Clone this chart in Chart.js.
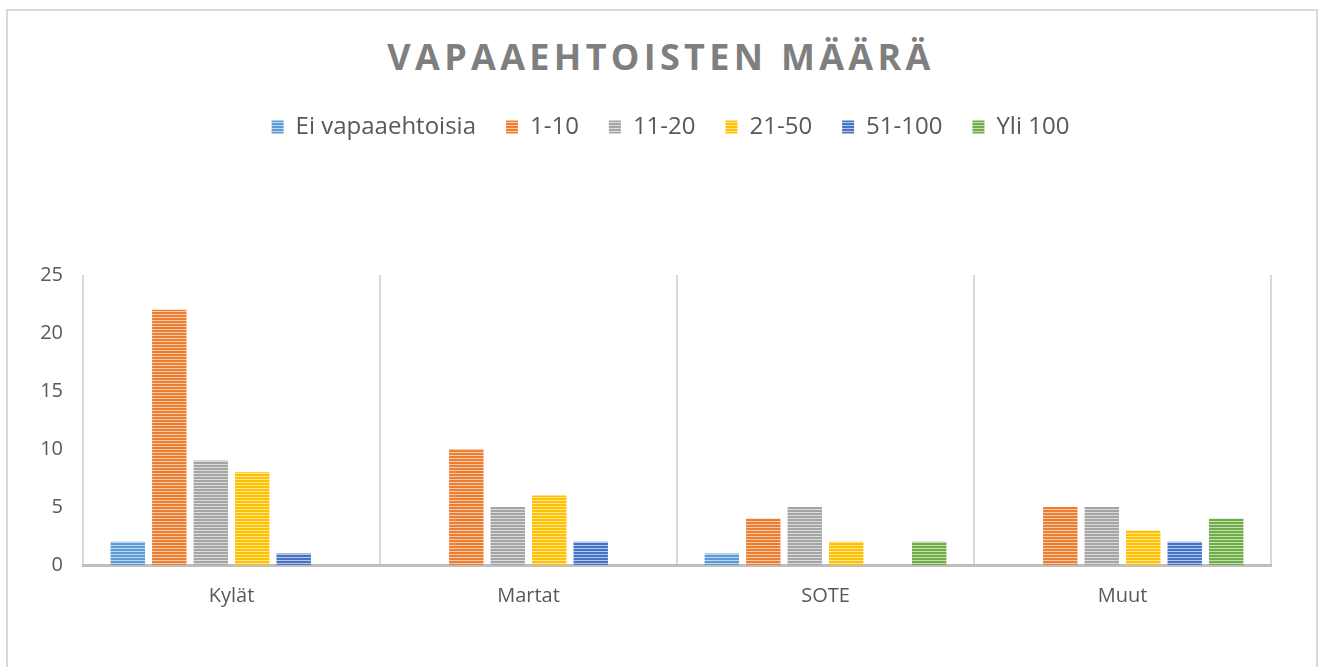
<!DOCTYPE html>
<html>
<head>
<meta charset="utf-8">
<script src="https://cdn.jsdelivr.net/npm/chart.js@4"></script>
<style>
  html, body { margin: 0; padding: 0; background: #fff; }
  #wrap { position: relative; width: 1322px; height: 667px; overflow: hidden; }
  #frame { position: absolute; left: 6px; top: 9px; width: 1312px; height: 680px; border: 2px solid #d9d9d9; box-sizing: border-box; }
  #title { position: absolute; left: 0; top: 32px; width: 1322px; text-align: center;
    font-family: 'Open Sans', sans-serif; font-weight: bold; font-size: 36px; letter-spacing: 4.3px; color: #7f7f7f; }
  canvas { position: absolute; left: 0; top: 0; }
</style>
</head>
<body>
<div id="wrap">
  <div id="frame"></div>
  <div id="title">VAPAAEHTOISTEN MÄÄRÄ</div>
  <canvas id="chart" width="1322" height="667"></canvas>
</div>
<script>
// data
const categories = ['Kylät', 'Martat', 'SOTE', 'Muut'];
const seriesNames = ['Ei vapaaehtoisia', '1-10', '11-20', '21-50', '51-100', 'Yli 100'];
const eiVapaaehtoisia = [2, 0, 1, 0];
const v1_10 = [22, 10, 4, 5];
const v11_20 = [9, 5, 5, 5];
const v21_50 = [8, 6, 2, 3];
const v51_100 = [1, 2, 0, 2];
const yli100 = [0, 0, 2, 4];
const yTicks = [0, 5, 10, 15, 20, 25];

const seriesValues = [eiVapaaehtoisia, v1_10, v11_20, v21_50, v51_100, yli100];
const colors = ['#5b9bd5', '#ed7d31', '#a5a5a5', '#ffc000', '#4472c4', '#70ad47'];

// horizontal stripe fill
function stripes(color) {
    var c = document.createElement('canvas');
    c.width = 4; c.height = 3;
    var g = c.getContext('2d');
    g.fillStyle = '#fff';
    g.fillRect(0, 0, 4, 3);
    g.fillStyle = color;
    g.fillRect(0, 0, 4, 2);
    g.globalAlpha = 0.4;
    g.fillRect(0, 2, 4, 1);
    return g.createPattern(c, 'repeat');
}

Chart.defaults.font.family = "'Open Sans', sans-serif";
Chart.defaults.color = '#595959';

// legend: fixed height, centred on the whole canvas instead of the left part
const legendFix = {
    id: 'legendFix',
    beforeInit(chart) {
        const fit = chart.legend.fit;
        chart.legend.fit = function () {
            fit.bind(chart.legend)();
            this.height = 190;
        };
    },
    afterLayout(chart) {
        chart.legend.left += 35;
        chart.legend.right += 35;
    }
};

var ctx = document.getElementById('chart').getContext('2d');
var myChart = new Chart(ctx, {
    type: 'bar',
    data: {
        labels: categories,
        datasets: seriesNames.map((name, i) => ({
            label: name,
            data: seriesValues[i],
            backgroundColor: stripes(colors[i]),
            borderWidth: 0,
            categoryPercentage: 0.838,
            barPercentage: 0.83
        }))
    },
    options: {
        responsive: false,
        animation: false,
        layout: { padding: { top: 85, right: 51, left: 0, bottom: 0 } },
        plugins: {
            legend: {
                position: 'top',
                labels: {
                    font: { size: 24 },
                    boxWidth: 12,
                    boxHeight: 13,
                    padding: 30
                }
            },
            tooltip: { enabled: false }
        },
        scales: {
            x: {
                grid: { display: true, offset: true, color: '#d9d9d9', lineWidth: 2, drawTicks: false },
                border: { display: true, color: '#bfbfbf', width: 3 },
                ticks: { font: { size: 20 }, padding: 19, color: '#595959' },
                afterFit(scale) { scale.height = 102; }
            },
            y: {
                min: 0,
                max: 25,
                afterBuildTicks(scale) { scale.ticks = yTicks.map(v => ({ value: v })); },
                grid: { display: false, drawTicks: false },
                border: { display: false },
                ticks: { font: { size: 20 }, padding: 20, color: '#595959' },
                afterFit(scale) { scale.width = 83; }
            }
        }
    },
    plugins: [legendFix]
});
</script>
</body>
</html>
